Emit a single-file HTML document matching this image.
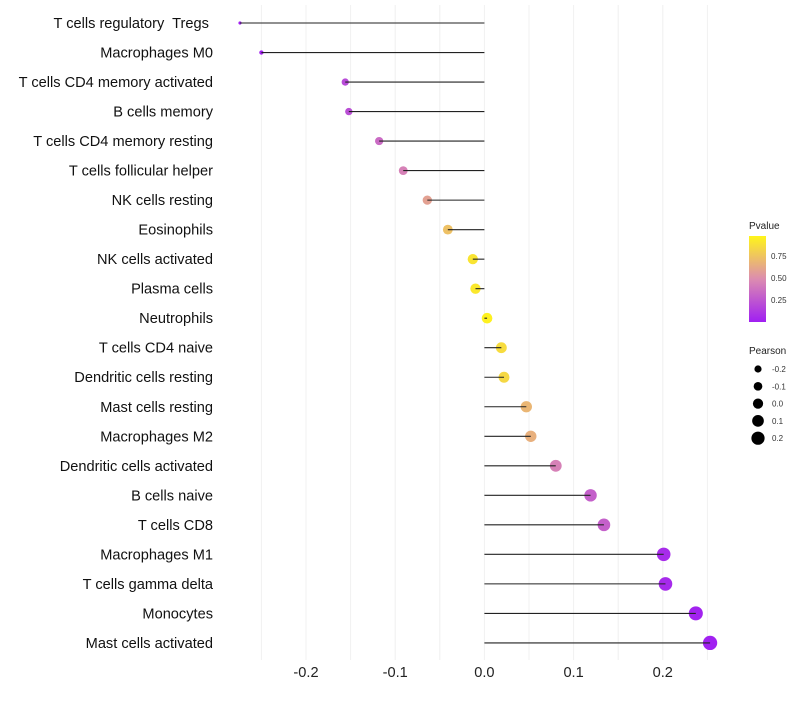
<!DOCTYPE html>
<html><head><meta charset="utf-8"><style>
body{margin:0;background:#fff;font-family:"Liberation Sans",sans-serif}
</style></head><body>
<svg id="chart" width="800" height="700" xmlns="http://www.w3.org/2000/svg" style="font-family:'Liberation Sans',sans-serif">
<defs><linearGradient id="pg" x1="0" y1="1" x2="0" y2="0">
<stop offset="0" stop-color="#a01ff2"/><stop offset="0.5" stop-color="#dc8cb0"/><stop offset="1" stop-color="#fff51a"/></linearGradient></defs>
<g id="grid"></g>
<g id="marks"></g>
<g id="ylabels"></g>
<g id="xlabels"></g>
<g>
<text x="749" y="229" font-size="10" fill="#222">Pvalue</text>
<rect x="749" y="236" width="17" height="86" fill="url(#pg)"/>
<g font-size="8" fill="#333"><text x="771" y="259">0.75</text><text x="771" y="281">0.50</text><text x="771" y="303">0.25</text></g>
</g>
<g id="sizeleg">
<text x="749" y="354" font-size="10" fill="#222">Pearson</text>
</g>
</svg>
<script>
const categories=["T cells regulatory  Tregs ","Macrophages M0","T cells CD4 memory activated","B cells memory","T cells CD4 memory resting","T cells follicular helper","NK cells resting","Eosinophils","NK cells activated","Plasma cells","Neutrophils","T cells CD4 naive","Dendritic cells resting","Mast cells resting","Macrophages M2","Dendritic cells activated","B cells naive","T cells CD8","Macrophages M1","T cells gamma delta","Monocytes","Mast cells activated"];
const pearson=[-0.274,-0.250,-0.156,-0.152,-0.118,-0.091,-0.064,-0.041,-0.013,-0.010,0.003,0.019,0.022,0.047,0.052,0.080,0.119,0.134,0.201,0.203,0.237,0.253];
const pvalues=[0.005,0.02,0.2,0.22,0.35,0.45,0.6,0.75,0.92,0.94,0.98,0.88,0.86,0.7,0.67,0.45,0.3,0.3,0.06,0.05,0.02,0.01];
const xTicks=[-0.2,-0.1,0.0,0.1,0.2];
const xTickLabels=["-0.2","-0.1","0.0","0.1","0.2"];
const legendSizes=[-0.2,-0.1,0.0,0.1,0.2];
const legendLabels=["-0.2","-0.1","0.0","0.1","0.2"];
const NS="http://www.w3.org/2000/svg";
const x=v=>484.4+v*892;
const y=i=>23+i*29.52;
const r=v=>Math.sqrt(2.5+92*Math.max(0,v+0.274));
function mix(a,b,t){return a.map((c,i)=>Math.round(c+(b[i]-c)*t));}
function col(p){const s=[[160,31,242],[220,140,176],[255,245,26]];
 const c=p<0.5?mix(s[0],s[1],p/0.5):mix(s[1],s[2],(p-0.5)/0.5);return `rgb(${c})`;}
function mk(tag,at,parent){const e=document.createElementNS(NS,tag);for(const k in at)e.setAttribute(k,at[k]);parent.appendChild(e);return e;}
const grid=document.getElementById('grid');
for(let v=-0.25;v<=0.2501;v+=0.05){const l=mk('line',{x1:x(v),x2:x(v),y1:5,y2:660,stroke:'#f0f0f0','stroke-width':1},grid);

}
const marks=document.getElementById('marks'),yl=document.getElementById('ylabels'),xl=document.getElementById('xlabels');
categories.forEach((c,i)=>{
 const d=mk('circle',{cx:x(pearson[i]),cy:y(i),r:r(pearson[i]),fill:col(pvalues[i])},marks);
 
 
 const l=mk('line',{x1:x(0),x2:x(pearson[i]),y1:y(i),y2:y(i),stroke:'#222','stroke-width':1.1},marks);
 
 
 const t=mk('text',{x:213,y:y(i)+5,'text-anchor':'end','font-size':14.6,fill:'#111','xml:space':'preserve'},yl);
 t.setAttribute('style','white-space:pre');
 t.textContent=c;
 
 
});
xTicks.forEach((v,i)=>{const t=mk('text',{x:x(v),y:677,'text-anchor':'middle','font-size':14.6,fill:'#222'},xl);
 t.textContent=xTickLabels[i];
 
 });
const sl=document.getElementById('sizeleg');
legendSizes.forEach((v,i)=>{const cy=369+i*17.3;
 const c=mk('circle',{cx:758,cy:cy,r:3.6+i*0.75,fill:'#000'},sl);
 
 
 const t=mk('text',{x:772,y:cy+3,'font-size':8,fill:'#333'},sl);t.textContent=legendLabels[i];
 
 });
</script>
</body></html>
